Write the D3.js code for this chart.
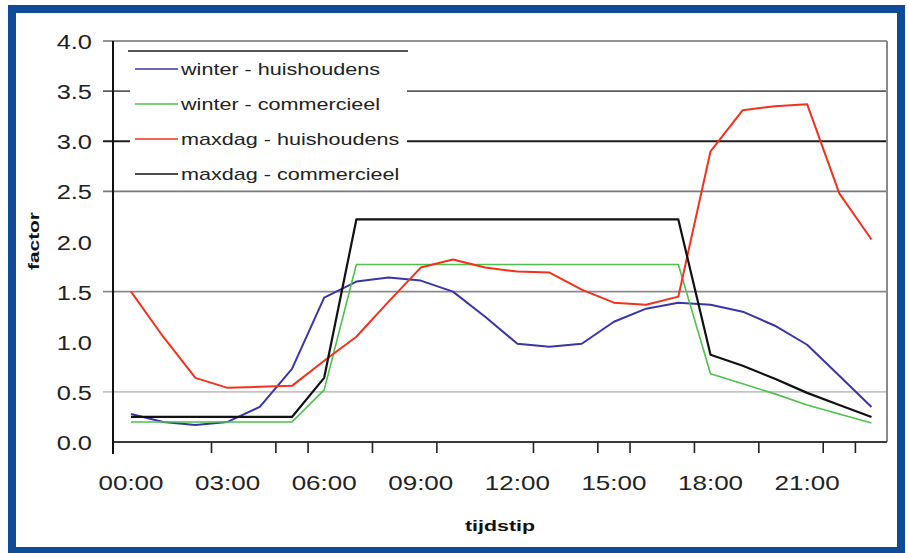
<!DOCTYPE html>
<html>
<head>
<meta charset="utf-8">
<script src="https://cdn.jsdelivr.net/npm/d3@7"></script>
<style>
  body { margin: 0; background: #fff; }
  svg { display: block; font-family: "Liberation Sans", Arial, sans-serif; }
</style>
</head>
<body>
<div id="chart"></div>
<script>
const width = 908;
const height = 553;

// uren van de dag
const hours = [0, 1, 2, 3, 4, 5, 6, 7, 8, 9, 10, 11, 12, 13, 14, 15, 16, 17, 18, 19, 20, 21, 22, 23];

const winterHuishoudens = [0.28, 0.20, 0.17, 0.20, 0.35, 0.73, 1.44, 1.60, 1.64, 1.61, 1.50, 1.25,
  0.98, 0.95, 0.98, 1.20, 1.33, 1.39, 1.37, 1.30, 1.16, 0.97, 0.66, 0.35];
const winterCommercieel = [0.20, 0.20, 0.20, 0.20, 0.20, 0.20, 0.52, 1.77, 1.77, 1.77, 1.77, 1.77,
  1.77, 1.77, 1.77, 1.77, 1.77, 1.77, 0.68, 0.58, 0.48, 0.37, 0.28, 0.19];
const maxdagHuishoudens = [1.50, 1.05, 0.64, 0.54, 0.55, 0.56, 0.81, 1.05, 1.40, 1.74, 1.82, 1.74,
  1.70, 1.69, 1.52, 1.39, 1.37, 1.45, 2.90, 3.31, 3.35, 3.37, 2.48, 2.02];
const maxdagCommercieel = [0.25, 0.25, 0.25, 0.25, 0.25, 0.25, 0.64, 2.22, 2.22, 2.22, 2.22, 2.22,
  2.22, 2.22, 2.22, 2.22, 2.22, 2.22, 0.87, 0.76, 0.63, 0.49, 0.37, 0.25];

const seriesNames = ["winter - huishoudens", "winter - commercieel", "maxdag - huishoudens", "maxdag - commercieel"];
const seriesColors = ["#3a36a8", "#4cc24c", "#f5301c", "#111111"];
const seriesWidths = [2, 1.6, 2, 2.2];

const yTicks = [0, 0.5, 1, 1.5, 2, 2.5, 3, 3.5, 4];
const gridValues = [0.5, 1.5, 2.5, 3, 3.5, 4];
const gridColors = { 0.5: "#c4c4c4", 1.5: "#8a8a8a", 2.5: "#7a7a7a", 3: "#1e1e1e", 3.5: "#5a5a5a", 4: "#707070" };
const xLabelHours = [0, 3, 6, 9, 12, 15, 18, 21];
const xLabels = ["00:00", "03:00", "06:00", "09:00", "12:00", "15:00", "18:00", "21:00"];
const xTickHours = [2.5, 4.5, 5.5, 7.5, 9.5, 12.5, 14.5, 15.5, 17.5, 19.5, 21.5, 22.5];

const plot = { left: 113, right: 887, top: 41, bottom: 442 };

const x = d3.scaleLinear().domain([0, 23]).range([131, 871.5]);
const y = d3.scaleLinear().domain([0, 4]).range([plot.bottom, plot.top]);

const svg = d3.select("#chart").append("svg")
  .attr("width", width)
  .attr("height", height);

svg.append("rect")
  .attr("width", width).attr("height", height)
  .attr("fill", "#fff");

/* gridlines */
svg.append("g")
  .selectAll("line")
  .data(gridValues)
  .enter().append("line")
  .attr("x1", 103).attr("x2", plot.right)
  .attr("y1", d => y(d)).attr("y2", d => y(d))
  .attr("stroke", d => gridColors[d])
  .attr("stroke-width", d => d === 3 ? 2 : 1.6);

// right border of plot area
svg.append("line")
  .attr("x1", plot.right).attr("x2", plot.right)
  .attr("y1", plot.top).attr("y2", plot.bottom)
  .attr("stroke", "#8a8a8a").attr("stroke-width", 2);

/* axes */
svg.append("line")
  .attr("x1", plot.left).attr("x2", plot.right)
  .attr("y1", plot.bottom).attr("y2", plot.bottom)
  .attr("stroke", "#3a3a3a").attr("stroke-width", 2);

svg.append("line")
  .attr("x1", plot.left).attr("x2", plot.left)
  .attr("y1", plot.top).attr("y2", plot.bottom + 12)
  .attr("stroke", "#111").attr("stroke-width", 2);

svg.append("g")
  .selectAll("line")
  .data(xTickHours)
  .enter().append("line")
  .attr("x1", d => x(d)).attr("x2", d => x(d))
  .attr("y1", plot.bottom).attr("y2", plot.bottom + 11)
  .attr("stroke", "#222").attr("stroke-width", 1.6);

svg.append("g")
  .selectAll("text")
  .data(yTicks)
  .enter().append("text")
  .attr("transform", d => "translate(92," + (y(d) + 8) + ") scale(1.27,1)")
  .attr("text-anchor", "end")
  .attr("font-size", 20)
  .attr("fill", "#222")
  .text(d => d.toFixed(1));

svg.append("g")
  .selectAll("text")
  .data(xLabelHours)
  .enter().append("text")
  .attr("transform", d => "translate(" + x(d) + ",490) scale(1.3,1)")
  .attr("text-anchor", "middle")
  .attr("font-size", 20)
  .attr("fill", "#222")
  .text((d, i) => xLabels[i]);

svg.append("text")
  .attr("x", 500).attr("y", 531)
  .attr("text-anchor", "middle")
  .attr("font-size", 15).attr("font-weight", "bold")
  .attr("textLength", 70).attr("lengthAdjust", "spacingAndGlyphs")
  .attr("fill", "#111")
  .text("tijdstip");

svg.append("text")
  .attr("transform", "translate(39,241) rotate(-90)")
  .attr("text-anchor", "middle")
  .attr("font-size", 15).attr("font-weight", "bold")
  .attr("textLength", 58).attr("lengthAdjust", "spacingAndGlyphs")
  .attr("fill", "#111")
  .text("factor");

/* legend */
const legend = svg.append("g");
legend.append("rect")
  .attr("x", 130).attr("y", 50).attr("width", 277).attr("height", 138)
  .attr("fill", "#fff");
legend.append("line")
  .attr("x1", 128).attr("x2", 408).attr("y1", 51).attr("y2", 51)
  .attr("stroke", "#555").attr("stroke-width", 2);

const legendItem = legend.selectAll("g.item")
  .data(seriesNames)
  .enter().append("g")
  .attr("class", "item")
  .attr("transform", (d, i) => "translate(0," + (69 + i * 35) + ")");

legendItem.append("line")
  .attr("x1", 135).attr("x2", 178)
  .attr("stroke", (d, i) => seriesColors[i])
  .attr("stroke-width", 1.6);

legendItem.append("text")
  .attr("transform", "translate(181,6) scale(1.27,1)")
  .attr("font-size", 17)
  .attr("fill", "#222")
  .text(d => d);

/* lines */
const allSeries = [winterHuishoudens, winterCommercieel, maxdagHuishoudens, maxdagCommercieel];
const line = d3.line()
  .x((d, i) => x(hours[i]))
  .y(d => y(d));

svg.append("g")
  .selectAll("path")
  .data(allSeries)
  .enter().append("path")
  .attr("d", d => line(d))
  .attr("fill", "none")
  .attr("stroke", (d, i) => seriesColors[i])
  .attr("stroke-width", (d, i) => seriesWidths[i])
  .attr("stroke-linejoin", "round");

/* blue frame */
svg.append("rect")
  .attr("x", 12).attr("y", 9)
  .attr("width", 889).attr("height", 542)
  .attr("fill", "none")
  .attr("stroke", "#0f4b97")
  .attr("stroke-width", 8);
</script>
</body>
</html>
